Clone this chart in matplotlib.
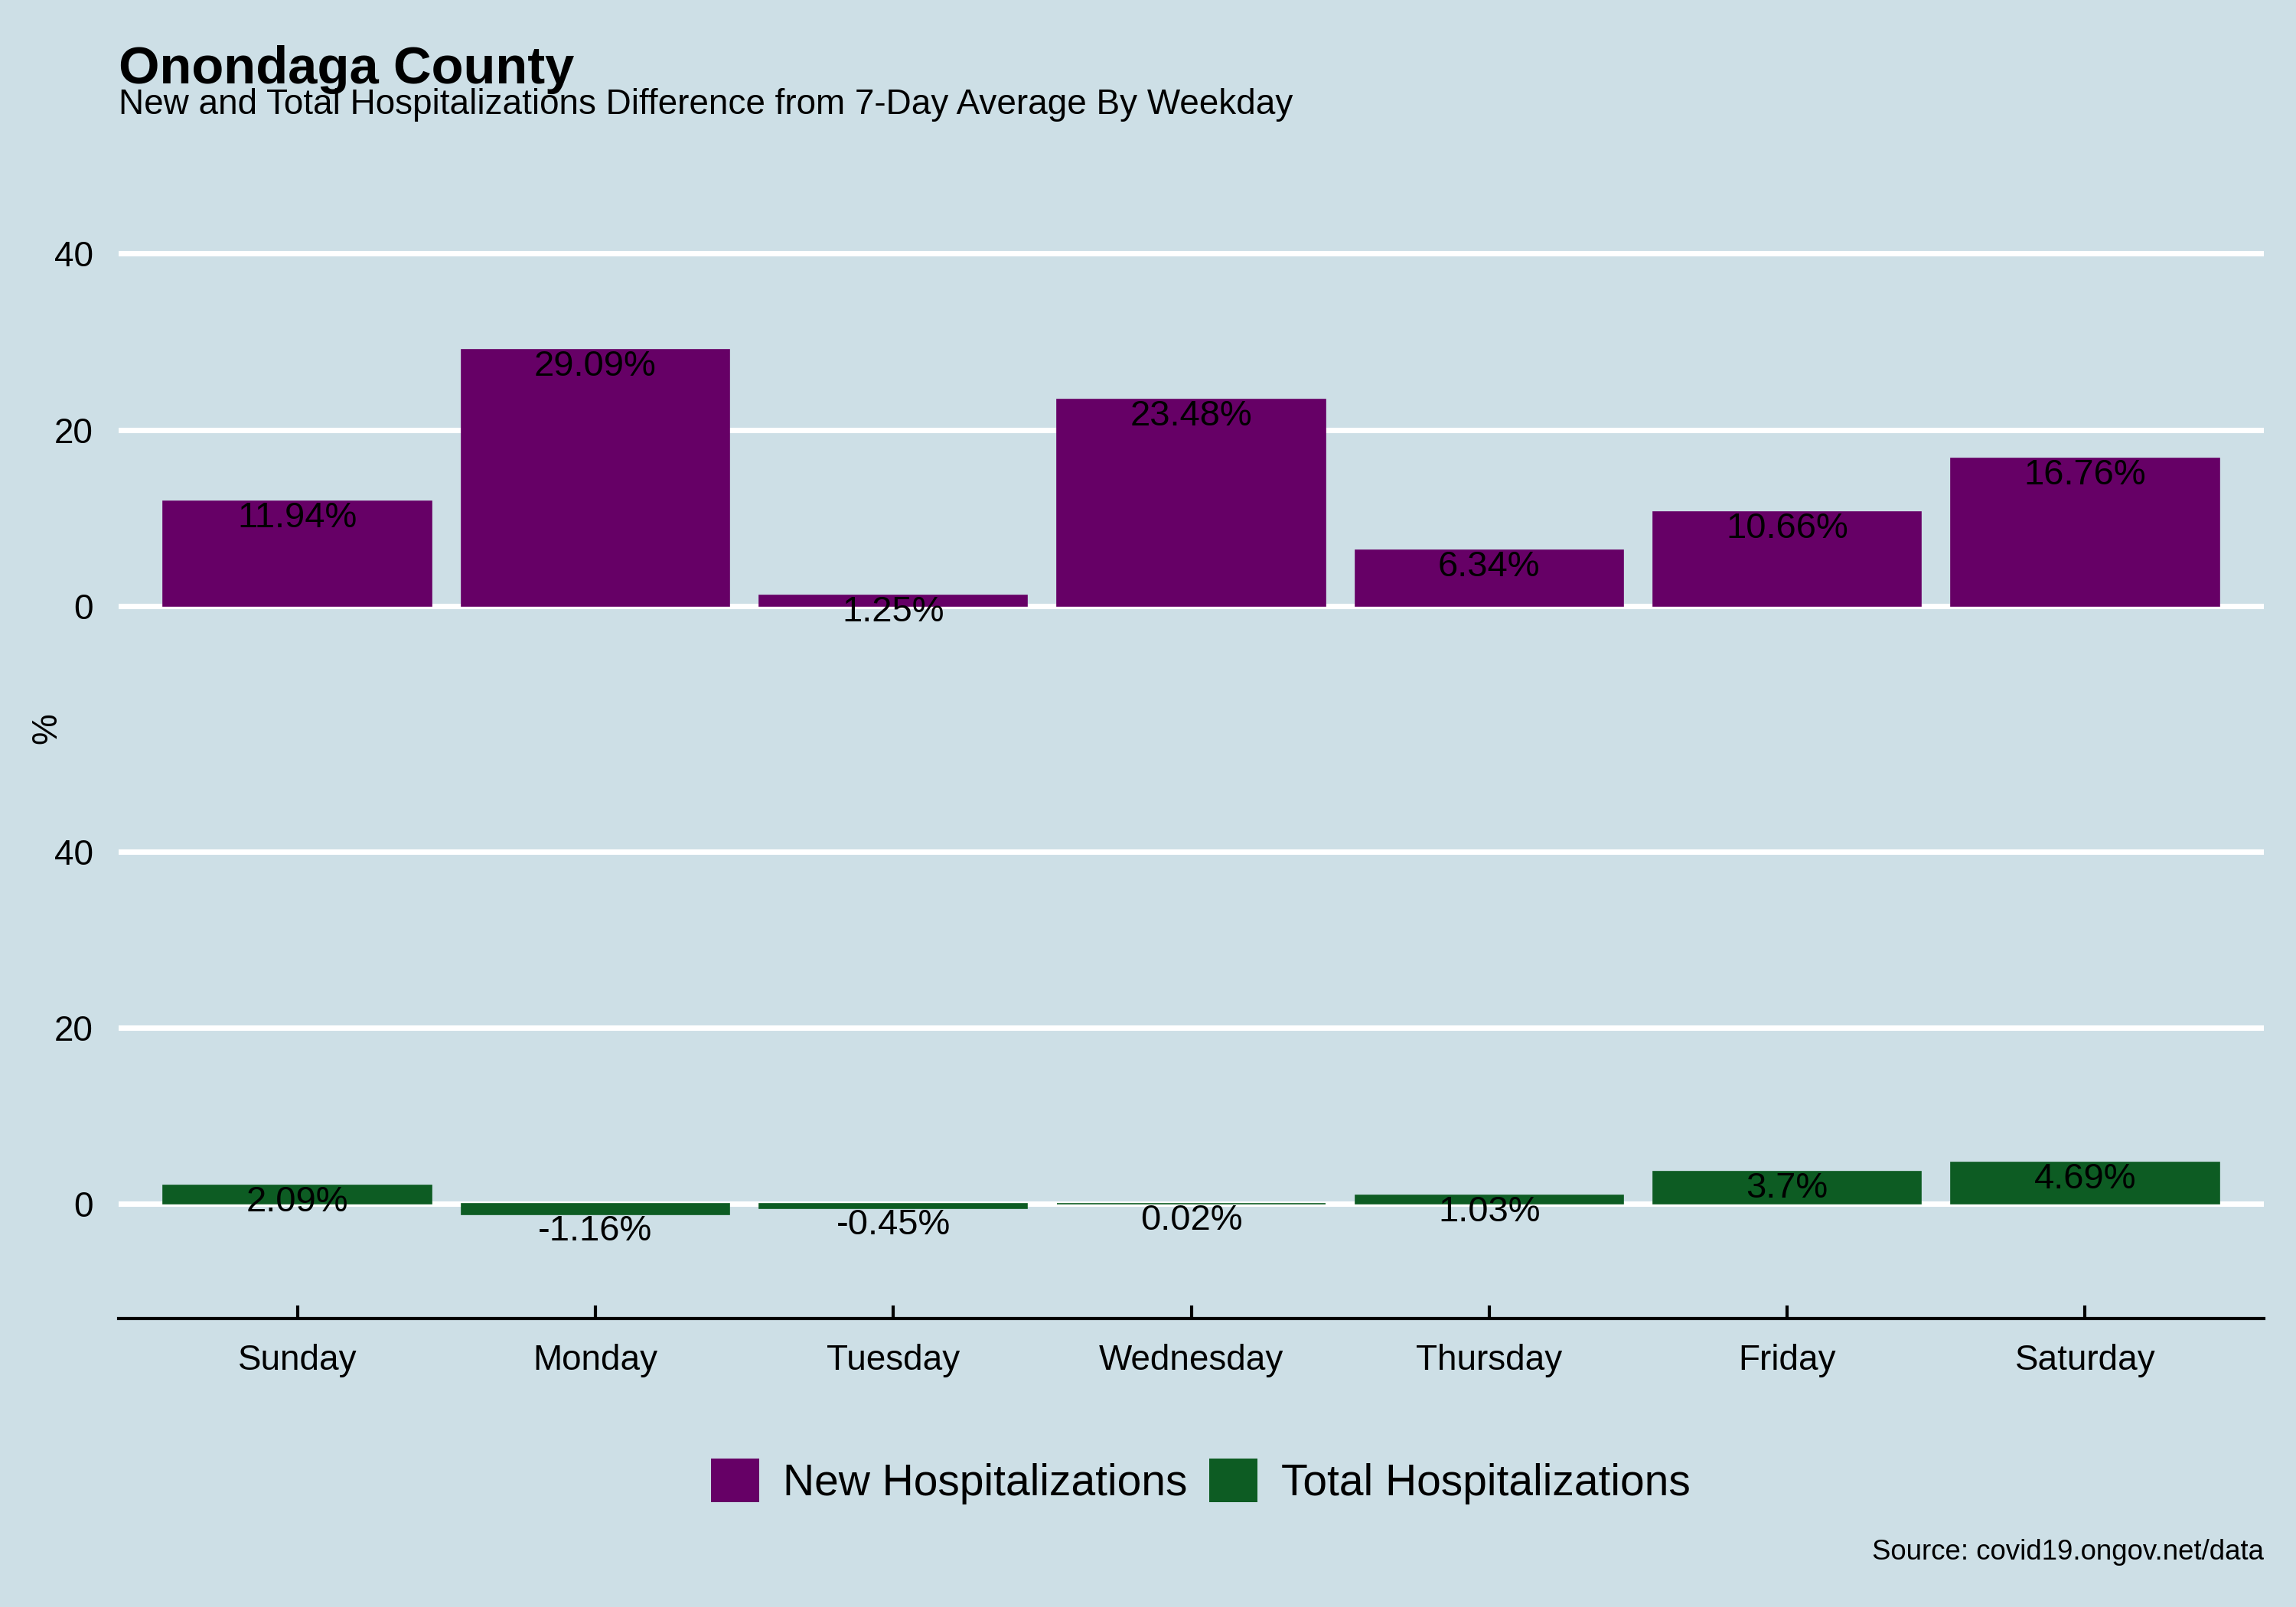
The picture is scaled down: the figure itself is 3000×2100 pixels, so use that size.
import matplotlib.pyplot as plt
from matplotlib.patches import Patch

plt.rcParams['font.family'] = ['Liberation Sans', 'DejaVu Sans']

# data
dias = ["Sunday", "Monday", "Tuesday", "Wednesday", "Thursday", "Friday", "Saturday"]
novas = [11.94, 29.09, 1.25, 23.48, 6.34, 10.66, 16.76]
totais = [2.09, -1.16, -0.45, 0.02, 1.03, 3.7, 4.69]
series = ["New Hospitalizations", "Total Hospitalizations"]

COR_FUNDO = "#cddfe6"
COR_NOVAS = "#660066"
COR_TOTAIS = "#0d5c23"

fig = plt.figure(figsize=(10, 7), dpi=300, facecolor=COR_FUNDO)

def painel(rect, valores, cor, mostrar_x):
    ax = fig.add_axes(rect)
    ax.set_facecolor(COR_FUNDO)
    x = list(range(len(dias)))
    ax.bar(x, valores, width=0.9, color=cor, edgecolor=cor, linewidth=0.4, zorder=3)
    for xi, v in zip(x, valores):
        ax.text(xi, v, f"{v:g}%", ha='center', va='top', fontsize=11.3,
                color='black', zorder=4)
    ax.set_ylim(-13, 50)
    ax.set_xlim(-0.6, len(dias) - 0.4)
    ax.set_yticks([0, 20, 40])
    ax.yaxis.grid(True, color='white', linewidth=1.7, zorder=1)
    ax.tick_params(axis='y', length=0, labelsize=11, pad=8)
    for s in ['top', 'right', 'left']:
        ax.spines[s].set_visible(False)
    if mostrar_x:
        ax.spines['bottom'].set_linewidth(1.0)
        ax.set_xticks(x)
        ax.set_xticklabels(dias, fontsize=11)
        ax.tick_params(axis='x', direction='in', length=4, width=1.0, pad=8)
    else:
        ax.spines['bottom'].set_visible(False)
        ax.set_xticks([])
    return ax

painel([0.0517, 0.5514, 0.9343, 0.3457], novas, COR_NOVAS, False)
painel([0.0517, 0.1795, 0.9343, 0.3453], totais, COR_TOTAIS, True)

fig.text(0.0204, 0.547, "%", rotation=90, fontsize=11, ha='center', va='center')

fig.text(0.0517, 0.948, "Onondaga County", fontsize=16.5, fontweight='bold',
         ha='left', va='baseline')
fig.text(0.0517, 0.929, "New and Total Hospitalizations Difference from 7-Day Average By Weekday",
         fontsize=11, ha='left', va='baseline')

handles = [Patch(facecolor=COR_NOVAS), Patch(facecolor=COR_TOTAIS)]
fig.legend(handles, series, loc='center', bbox_to_anchor=(0.523, 1 - 1936 / 2100),
           ncol=2, frameon=False, fontsize=13.7, handlelength=1.1, handleheight=1.15,
           handletextpad=0.55, columnspacing=0.5)

fig.text(0.986, 1 - 2028 / 2100, "Source: covid19.ongov.net/data", fontsize=8.8,
         ha='right', va='center')

fig.savefig("out.png", dpi=300, facecolor=COR_FUNDO)
